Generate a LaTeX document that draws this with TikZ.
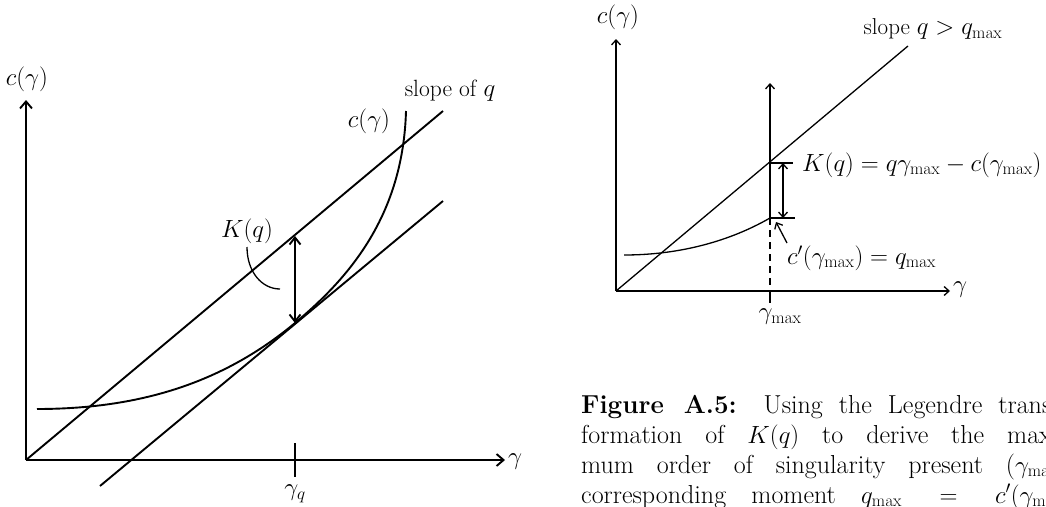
\documentclass[tikz,border=0pt]{standalone}
\usetikzlibrary{arrows.meta}
\begin{document}
\begin{tikzpicture}[x=1pt,y=-1pt,
  thk/.style={line width=1.9pt},
  thn/.style={line width=1.3pt},
  tipL/.style={-{Straight Barb[length=7pt,width=12pt,line width=1.9pt]}},
  dtipL/.style={{Straight Barb[length=7pt,width=11pt,line width=1.9pt]}-{Straight Barb[length=7pt,width=11pt,line width=1.9pt]}},
  tipR/.style={-{Straight Barb[length=5pt,width=9pt,line width=1.3pt]}},
  dtipR/.style={{Straight Barb[length=5pt,width=9pt,line width=1.3pt]}-{Straight Barb[length=5pt,width=9pt,line width=1.3pt]}},
  labL/.style={font=\fontsize{23.5}{27}\selectfont, inner sep=0pt},
  labR/.style={font=\fontsize{23}{27}\selectfont, inner sep=0pt},
  capline/.style={font=\fontsize{26}{30}\selectfont, inner sep=0pt, anchor=base west}
]
\useasboundingbox (0,0) rectangle (1046,506);
\clip (0,0) rectangle (1046,506);

% ---------------- left diagram ----------------
\coordinate (O1) at (26,460);
\coordinate (Y1) at (26,100);
\coordinate (X1) at (505,460);
\coordinate (U1) at (443,111);
\coordinate (La) at (100,486);
\coordinate (Lb) at (443,201);
\coordinate (Cs) at (37,409);
\coordinate (T1) at (295,323);
\coordinate (Ce) at (406,111);
\coordinate (K1) at (295,236);
\coordinate (Tq1) at (295,443);
\coordinate (Tq2) at (295,477);
\coordinate (H1) at (247,247);
\coordinate (H2) at (280,289);

\draw[thk,tipL] (O1) -- (Y1);
\draw[thk,tipL] (O1) -- (X1);
\draw[thk] (O1) -- (U1);
\draw[thk] (La) -- (Lb);
\draw[thk] (Cs) .. controls (150,409) and (230,377) .. (T1)
               .. controls (350,277) and (403,215) .. (Ce);
\draw[thk,dtipL] (K1) -- (T1);
\draw[thk] (Tq1) -- (Tq2);
\draw[thn] (H1) .. controls (247,272) and (262,289) .. (H2);

\node[labL] (cyL) at (27,79) {$c(\gamma)$};
\node[labL] (slL) at (450,91) {slope of $q$};
\node[labL] (ccL) at (369,121) {$c(\gamma)$};
\node[labL] (KqL) at (247,231) {$K(q)$};
\node[labL,anchor=west] (gL) at (508,462) {$\gamma$};
\node[labL,anchor=north] (gqL) at (295,485) {$\gamma_q$};

% ---------------- right diagram ----------------
\coordinate (O2) at (616,291);
\coordinate (Y2) at (616,39);
\coordinate (X2) at (950,291);
\coordinate (U2) at (908,46);
\coordinate (Rs) at (624,255);
\coordinate (Re) at (770,218);
\coordinate (Vt) at (770,83);
\coordinate (Ka) at (770,163);
\coordinate (Kb) at (793,163);
\coordinate (Rb) at (795,218);
\coordinate (Da) at (783,163);
\coordinate (Db) at (783,218);
\coordinate (Ax) at (770,291);
\coordinate (Tk) at (770,303);
\coordinate (Pa) at (787,243);
\coordinate (Pb) at (776,222);

\draw[thn,tipR] (O2) -- (Y2);
\draw[thn,tipR] (O2) -- (X2);
\draw[thn] (O2) -- (U2);
\draw[thn] (Rs) .. controls (680,255) and (730,241) .. (Re);
\draw[thn,tipR] (Re) -- (Vt);
\draw[thn] (Ka) -- (Kb);
\draw[thn] (Re) -- (Rb);
\draw[thn,dtipR] (Da) -- (Db);
\draw[thn,dash pattern=on 7pt off 5pt] (Re) -- (Ax);
\draw[thn] (Ax) -- (Tk);
\draw[thn,tipR] (Pa) -- (Pb);

\node[labR] (cyR) at (618,17) {$c(\gamma)$};
\node[labR] (slR) at (933,29) {slope $q > q_{\max}$};
\node[labR,anchor=west] (KqR) at (802,165) {$K(q) = q\gamma_{\max} - c(\gamma_{\max})$};
\node[labR,anchor=west] (cpR) at (787,258) {$c'(\gamma_{\max}) = q_{\max}$};
\node[labR,anchor=west] (gR) at (953,290) {$\gamma$};
\node[labR] (gmR) at (780,317) {$\gamma_{\max}$};

% ---------------- caption ----------------
\node[capline] (cap1) at (581,413) {\hbox to 478pt{\textbf{Figure A.5:} Using the Legendre trans-}};
\node[capline] (cap2) at (581,443) {\hbox to 485pt{formation of $K(q)$ to derive the maxi-}};
\node[capline] (cap3) at (581,473) {\hbox to 486pt{mum order of singularity present ($\gamma_{\max}$)}};
\node[capline] (cap4) at (581,503) {\hbox to 490pt{corresponding moment $q_{\max} = c'(\gamma_{\max})$}};
\end{tikzpicture}
\end{document}
